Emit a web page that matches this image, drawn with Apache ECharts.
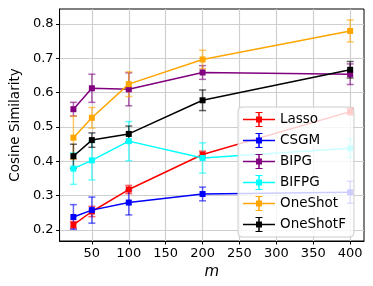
<!DOCTYPE html>
<html>
<head>
<meta charset="utf-8">
<script src="https://cdn.jsdelivr.net/npm/echarts@6/dist/echarts.min.js"></script>
<style>html,body{margin:0;padding:0;background:#fff}#c{width:373px;height:286px}</style>
</head>
<body>
<div id="c"></div>
<script>
const mValues = [25, 50, 100, 200, 400];
const xTicks = [50, 100, 150, 200, 250, 300, 350, 400];
const yTicks = [0.2, 0.3, 0.4, 0.5, 0.6, 0.7, 0.8];

const seriesNames = ['Lasso', 'CSGM', 'BIPG', 'BIFPG', 'OneShot', 'OneShotF'];
const seriesColors = ['#ff0000', '#0000ff', '#800080', '#00ffff', '#ffa500', '#000000'];

const lassoMean = [0.215, 0.254, 0.318, 0.420, 0.545];
const lassoErr  = [0.010, 0.015, 0.012, 0.010, 0.010];
const csgmMean  = [0.238, 0.258, 0.280, 0.305, 0.310];
const csgmErr   = [0.036, 0.038, 0.036, 0.020, 0.032];
const bipgMean  = [0.552, 0.613, 0.610, 0.659, 0.654];
const bipgErr   = [0.020, 0.041, 0.048, 0.020, 0.030];
const bifpgMean = [0.379, 0.403, 0.459, 0.410, 0.438];
const bifpgErr  = [0.046, 0.057, 0.057, 0.044, 0.027];
const oneshotMean = [0.469, 0.527, 0.625, 0.697, 0.780];
const oneshotErr  = [0.063, 0.030, 0.036, 0.027, 0.032];
const oneshotFMean = [0.415, 0.462, 0.480, 0.578, 0.667];
const oneshotFErr  = [0.035, 0.021, 0.023, 0.030, 0.024];

const means = [lassoMean, csgmMean, bipgMean, bifpgMean, oneshotMean, oneshotFMean];
const errs = [lassoErr, csgmErr, bipgErr, bifpgErr, oneshotErr, oneshotFErr];

const FONT = 'DejaVu Sans';
const legendIcon = 'path://M0 7.25H32V8.75H0Z M15.25 1H16.75V15H15.25Z M12.5 0.5H19.5V1.5H12.5Z M12.5 14.5H19.5V15.5H12.5Z M13 5H19V11H13Z';

const series = [];
seriesNames.forEach((name, i) => {
  const color = seriesColors[i];
  series.push({
    name: name,
    type: 'custom',
    z: 2,
    itemStyle: { color: color },
    data: mValues.map((x, k) => [x, means[i][k] - errs[i][k], means[i][k] + errs[i][k]]),
    encode: { x: 0, y: [1, 2] },
    renderItem: function (params, api) {
      const x = api.value(0);
      const lo = api.coord([x, api.value(1)]);
      const hi = api.coord([x, api.value(2)]);
      const st = { stroke: color, lineWidth: 1.5, opacity: 0.6 };
      const cw = 3.5;
      return {
        type: 'group',
        children: [
          { type: 'line', shape: { x1: lo[0], y1: lo[1], x2: hi[0], y2: hi[1] }, style: st },
          { type: 'line', shape: { x1: lo[0] - cw, y1: lo[1], x2: lo[0] + cw, y2: lo[1] }, style: st },
          { type: 'line', shape: { x1: hi[0] - cw, y1: hi[1], x2: hi[0] + cw, y2: hi[1] }, style: st }
        ]
      };
    },
    silent: true
  });
  series.push({
    name: name,
    type: 'line',
    z: 2,
    color: color,
    data: mValues.map((x, k) => [x, means[i][k]]),
    symbol: 'rect',
    symbolSize: 6,
    showSymbol: true,
    lineStyle: { color: color, width: 1.5 },
    itemStyle: { color: color },
    animation: false
  });
});

const chart = echarts.init(document.getElementById('c'), null, { renderer: 'canvas' });
chart.setOption({
  animation: false,
  backgroundColor: '#ffffff',
  grid: { left: 53, right: 9, top: 9, bottom: 45, containLabel: false, show: true, borderColor: '#000', borderWidth: 1 },
  xAxis: {
    type: 'value',
    min: 6.25,
    max: 418.75,
    name: 'm',
    nameLocation: 'middle',
    nameGap: 20,
    nameTextStyle: { fontFamily: FONT, fontSize: 15, fontStyle: 'italic', color: '#000' },
    axisLine: { show: true, lineStyle: { color: '#000', width: 1 } },
    axisTick: { show: true, length: 3.5, customValues: xTicks, lineStyle: { color: '#000' } },
    axisLabel: { customValues: xTicks, margin: 6, fontFamily: FONT, fontSize: 13, color: '#000', formatter: v => String(v) },
    splitLine: { show: true, lineStyle: { color: '#cfcfcf', width: 1.2 } }
  },
  yAxis: {
    type: 'value',
    min: 0.168,
    max: 0.844,
    name: 'Cosine Similarity',
    nameLocation: 'middle',
    nameGap: 35,
    nameTextStyle: { fontFamily: FONT, fontSize: 13.5, color: '#000' },
    axisLine: { show: true, lineStyle: { color: '#000', width: 1 } },
    axisTick: { show: true, length: 3.5, customValues: yTicks, lineStyle: { color: '#000' } },
    axisLabel: { customValues: yTicks, margin: 6, fontFamily: FONT, fontSize: 13, color: '#000', formatter: v => v.toFixed(1) },
    splitLine: { show: true, lineStyle: { color: '#cfcfcf', width: 1.2 } }
  },
  legend: {
    orient: 'vertical',
    left: 238,
    top: 107,
    padding: [5, 8, 5, 5],
    itemWidth: 32,
    itemHeight: 16,
    itemGap: 6,
    backgroundColor: 'rgba(255,255,255,0.8)',
    borderColor: '#cccccc',
    borderWidth: 1,
    borderRadius: 4,
    textStyle: { fontFamily: FONT, fontSize: 13.5, color: '#000' },
    data: seriesNames.map((n, i) => ({ name: n, icon: legendIcon, itemStyle: { color: seriesColors[i] } })),
    selectedMode: false,
    z: 10
  },
  series: series
});
</script>
</body>
</html>
